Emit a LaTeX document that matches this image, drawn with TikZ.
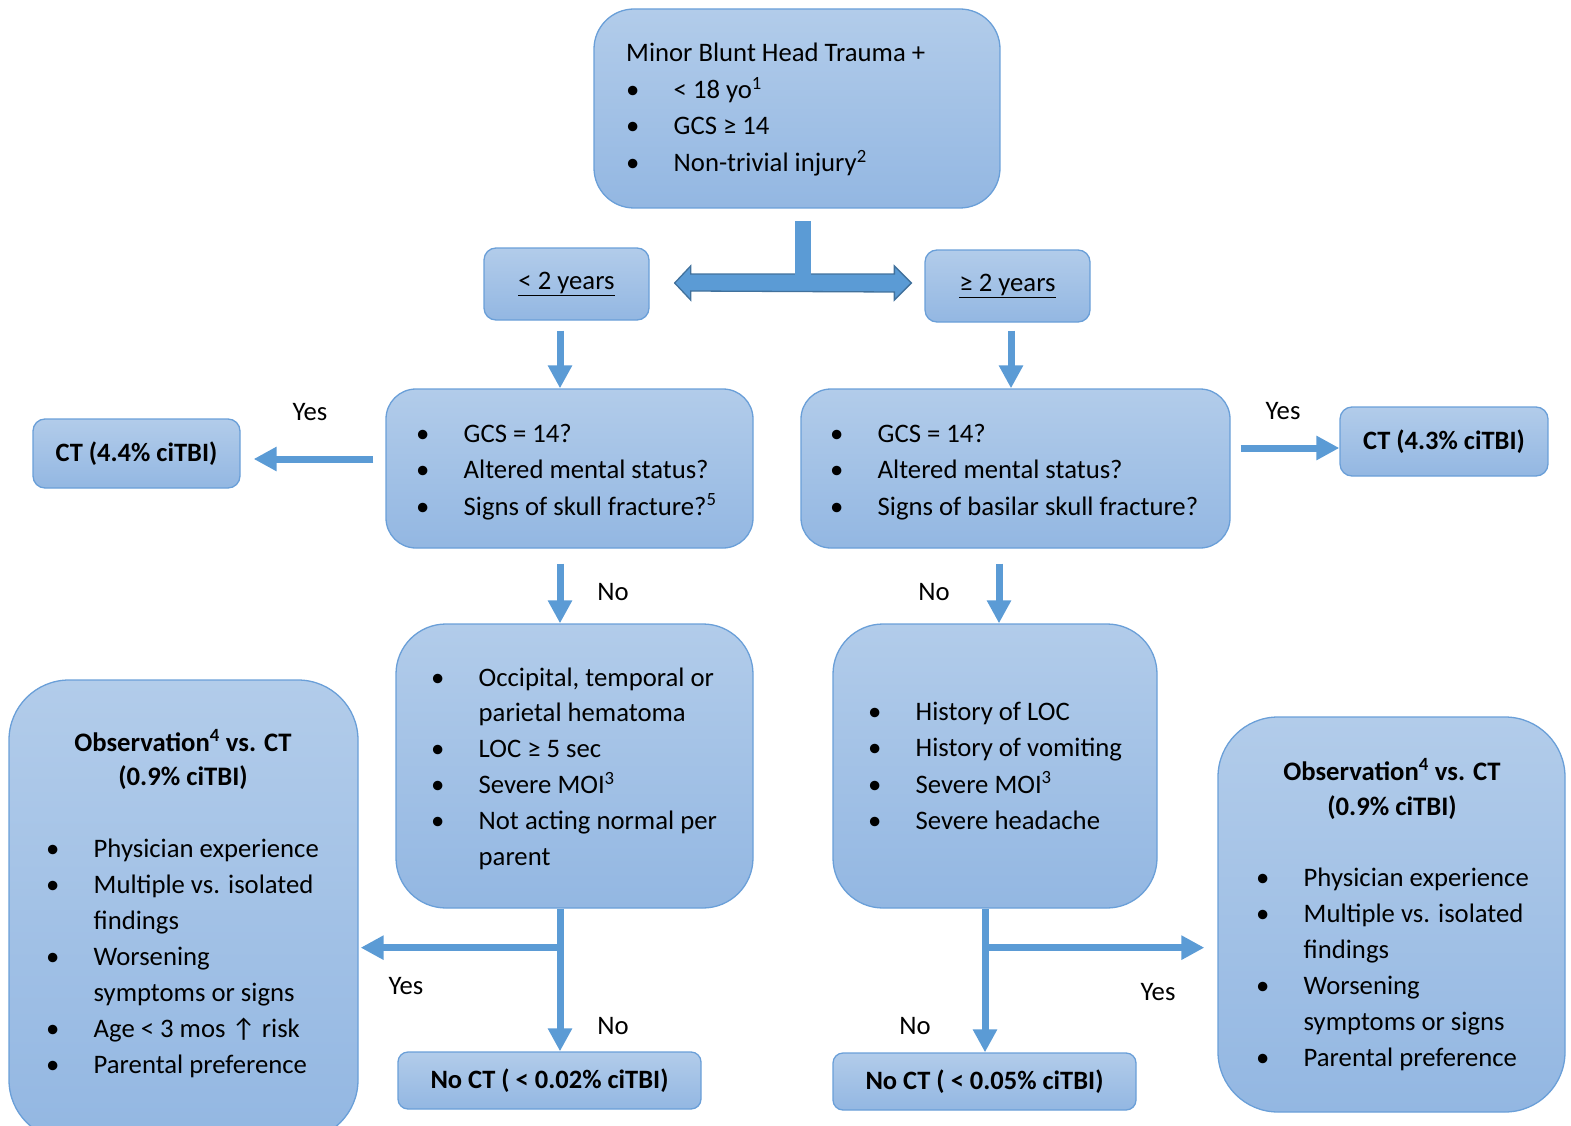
\documentclass[tikz,border=0pt]{standalone}
\usepackage{fontspec}
\setmainfont{Carlito}
\usetikzlibrary{arrows.meta,calc}
\definecolor{arr}{HTML}{5B9BD5}
\definecolor{bord}{HTML}{6A9FD8}
\definecolor{ftop}{HTML}{B2CCEA}
\definecolor{fbot}{HTML}{93B7E2}
\definecolor{darr}{HTML}{41719C}
\newcommand\mybl{\makebox[47.5pt][l]{\textbullet}}
\newcommand\li[1]{\hbox{\mybl #1}}
\newcommand\lc[1]{\hbox{\hspace*{47.5pt}#1}}
\newcommand\lp[1]{\hbox{#1}}
\newcommand\lz[1]{\hbox to 0pt{\hss #1\hss}}
\newcommand\stk[2]{\vtop{\baselineskip=#1\lineskiplimit=-100pt\lineskip=0pt #2}}
\begin{document}
\begin{tikzpicture}[x=1pt,y=-1pt,font=\fontsize{26.7}{36.5}\selectfont,
  box/.style={draw=bord, line width=1.3pt, top color=ftop, bottom color=fbot, inner sep=0pt, rounded corners=#1},
  box/.default=12pt,
  txt/.style={anchor=base west, inner sep=0pt},
  ctr/.style={anchor=base, inner sep=0pt},
  conn/.style={draw=arr, line width=7pt, -{Triangle[width=23pt,length=23pt]}},
  lbl/.style={inner sep=0pt}]
\useasboundingbox (0,0) rectangle (1571,1126);
% boxes
\node[box=40pt, minimum width=406pt, minimum height=199pt] (top) at (797,108.5) {};
\node[box, minimum width=165pt, minimum height=72pt] (lt) at (566.5,284) {\underline{< 2 years}};
\node[box, minimum width=165pt, minimum height=72pt] (rt) at (1007.5,286) {\underline{≥ 2 years}};
\node[box=30pt, minimum width=367pt, minimum height=159pt] (lq) at (569.5,468.5) {};
\node[box=30pt, minimum width=429pt, minimum height=159pt] (rq) at (1015.5,468.5) {};
\node[box, minimum width=207pt, minimum height=69pt, font=\fontsize{26.5}{30}\selectfont\bfseries] (ct1) at (136.5,453.5) {CT (4.4\% ciTBI)};
\node[box, minimum width=208pt, minimum height=69pt, font=\fontsize{26.5}{30}\selectfont\bfseries] (ct2) at (1444,441.5) {CT (4.3\% ciTBI)};
\node[box=50pt, minimum width=357pt, minimum height=284pt] (lm) at (574.5,766) {};
\node[box=50pt, minimum width=324pt, minimum height=284pt] (rm) at (995,766) {};
\node[box=60pt, minimum width=349pt, minimum height=460pt] (lo) at (183.5,910) {};
\node[box=60pt, minimum width=347pt, minimum height=395pt] (ro) at (1391.5,914.5) {};
\node[box=10pt, minimum width=303pt, minimum height=57pt, font=\fontsize{26.5}{30}\selectfont\bfseries] (nl) at (549.5,1080.5) {No CT ( < 0.02\% ciTBI)};
\node[box=10pt, minimum width=303pt, minimum height=57pt, font=\fontsize{26.5}{30}\selectfont\bfseries] (nr) at (984.5,1081.5) {No CT ( < 0.05\% ciTBI)};
% box texts
\node[txt] (toptxt) at (626,62) {\stk{36.5pt}{\lp{Minor Blunt Head Trauma +}\li{< 18 yo\textsuperscript{1}}\li{GCS ≥ 14}\li{Non-trivial injury\textsuperscript{2}}}};
\node[txt] (lqtxt) at (416,442) {\stk{36.5pt}{\li{GCS = 14?}\li{Altered mental status?}\li{Signs of skull fracture?\textsuperscript{5}}}};
\node[txt] (rqtxt) at (830,442) {\stk{36.5pt}{\li{GCS = 14?}\li{Altered mental status?}\li{Signs of basilar skull fracture?}}};
\node[txt] (lmtxt) at (431,686) {\stk{35.8pt}{\li{Occipital, temporal or}\lc{parietal hematoma}\li{LOC ≥ 5 sec}\li{Severe MOI\textsuperscript{3}}\li{Not acting normal per}\lc{parent}}};
\node[txt] (rmtxt) at (868,720) {\stk{36.5pt}{\li{History of LOC}\li{History of vomiting}\li{Severe MOI\textsuperscript{3}}\li{Severe headache}}};
\node[ctr] (lotitle) at (183,751) {\stk{34pt}{\lz{\bfseries Observation\textsuperscript{4} vs. CT}\lz{\bfseries (0.9\% ciTBI)}}};
\node[txt] (lotxt) at (46,857) {\stk{36pt}{\li{Physician experience}\li{Multiple vs. isolated}\lc{findings}\li{Worsening}\lc{symptoms or signs}\li{Age < 3 mos ↑ risk}\li{Parental preference}}};
\node[ctr] (rotitle) at (1392,780) {\stk{35pt}{\lz{\bfseries Observation\textsuperscript{4} vs. CT}\lz{\bfseries (0.9\% ciTBI)}}};
\node[txt] (rotxt) at (1256,886) {\stk{36pt}{\li{Physician experience}\li{Multiple vs. isolated}\lc{findings}\li{Worsening}\lc{symptoms or signs}\li{Parental preference}}};
% double block arrow
\coordinate (dl) at ($(lt.east)+(25,-1)$);
\coordinate (dr) at ($(rt.west)+(-13,-3)$);
\fill[arr, draw=darr, line width=1.3pt] (dl) -- ++(16,-17) -- ++(0,8) -- ($(dr)+(-17,-9)$) -- ++(0,-8) -- (dr) -- ++(-17,17) -- ++(0,-8) -- ($(dl)+(16,8)$) -- ++(0,9) -- cycle;
\coordinate (st) at ($(top.south)+(6,12)$);
\fill[arr] ($(st)+(-8,0)$) rectangle ($(st |- dl)+(8,-8)$);
% connectors
\draw[conn] ($(lt.south)+(-6.5,10)$) coordinate (a1) -- (a1 |- lq.north);
\draw[conn] ($(rt.south)+(3.5,8)$) coordinate (a2) -- (a2 |- rq.north);
\draw[conn] ($(lq.west)+(-12,-9.5)$) coordinate (a3) -- ($(ct1.east |- a3)+(13,0)$);
\draw[conn] ($(rq.east)+(10,-20.5)$) coordinate (a4) -- (a4 -| ct2.west);
\draw[conn] ($(lq.south)+(-9.5,15)$) coordinate (a5) -- (a5 |- lm.north);
\draw[conn] ($(rq.south)+(-16.5,15)$) coordinate (a6) -- (a6 |- rm.north);
\coordinate (b1) at ($(lm.south)+(-14.5,0)$);
\coordinate (b2) at ($(b1)+(0,39)$);
\draw[conn] (b1) -- (b1 |- nl.north);
\draw[conn] (b2) -- ($(b2 -| lo.east)+(2,0)$);
\coordinate (c1) at ($(rm.south)+(-10,0)$);
\coordinate (c2) at ($(c1)+(0,39)$);
\draw[conn] (c1) -- (c1 |- nr.north);
\draw[conn] (c2) -- ($(c2 -| ro.west)+(-13,0)$);
% labels
\node[lbl] (y1) at (310,412) {Yes};
\node[lbl] (y2) at (1283,411) {Yes};
\node[lbl] (n1) at (613,592) {No};
\node[lbl] (n2) at (934,592) {No};
\node[lbl] (y3) at (406,986) {Yes};
\node[lbl] (n3) at (613,1026) {No};
\node[lbl] (y4) at (1158,992) {Yes};
\node[lbl] (n4) at (915,1026) {No};
\end{tikzpicture}
\end{document}
